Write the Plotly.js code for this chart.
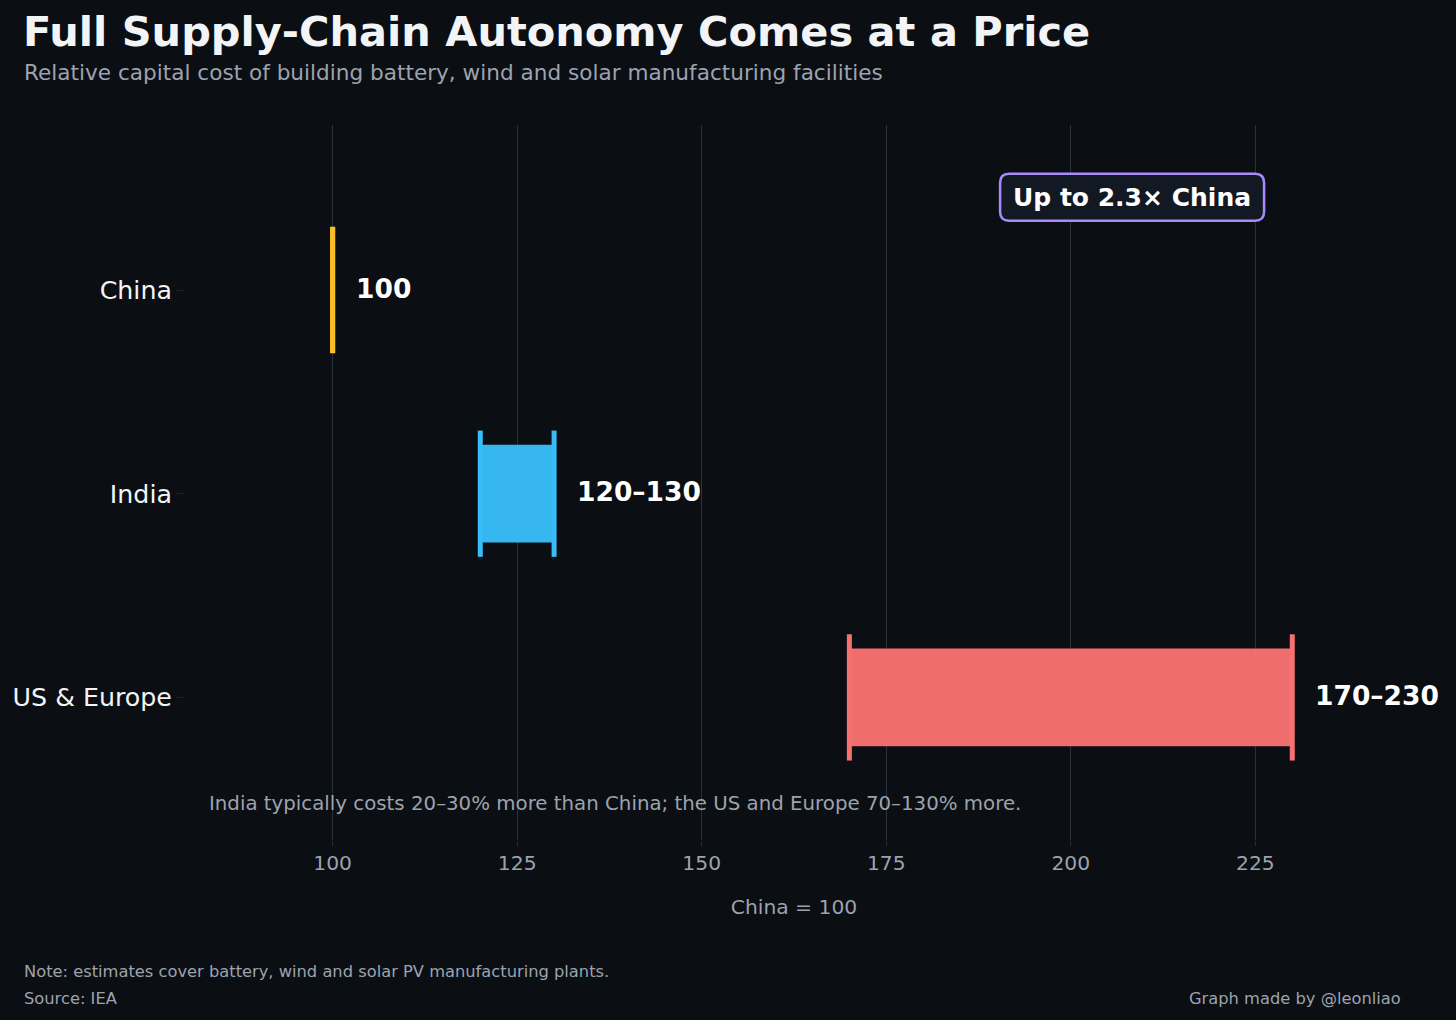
<!DOCTYPE html>
<html>
<head>
<meta charset="utf-8">
<script src="https://cdn.plot.ly/plotly-3.0.1.min.js"></script>
<style>
  html, body { margin: 0; padding: 0; background: #0b0e13; }
  #chart { width: 1456px; height: 1020px; }
</style>
</head>
<body>
<div id="chart"></div>
<script>
// ---- data ----
var regions   = ['China', 'India', 'US & Europe'];
var costLow   = [100, 120, 170];
var costHigh  = [100, 130, 230];
var rangeText = ['100', '120\u2013130', '170\u2013230'];
var colors    = ['#fbbf24', '#38bdf8', '#f87171'];
var xTicks    = [100, 125, 150, 175, 200, 225];

var FONT = '"DejaVu Sans", Verdana, sans-serif';
var BG = '#0b0e13';
var GREY = '#9ca3af';
var capHalf = 0.31;

var yIdx = regions.map(function(r, i){ return i; });

// range bars (base = low, length = high - low)
var traces = [{
	type: 'bar',
	orientation: 'h',
	y: yIdx,
	base: costLow,
	x: costHigh.map(function(h, i){ return h - costLow[i]; }),
	width: 0.48,
	marker: {color: colors, opacity: 0.97, line: {width: 0}},
	hoverinfo: 'skip',
	showlegend: false
}];

// end caps at low and high of every range
regions.forEach(function(r, i){
	traces.push({
		type: 'scatter',
		mode: 'lines',
		x: [costLow[i], costLow[i], null, costHigh[i], costHigh[i]],
		y: [i - capHalf, i + capHalf, null, i - capHalf, i + capHalf],
		line: {color: colors[i], width: 5},
		hoverinfo: 'skip',
		showlegend: false
	});
});

// plot box in pixels, used for paper-coordinate text outside the axes
var plotL = 185, plotW = 1456 - 185 - 53, plotT = 125, plotH = 1020 - 125 - 180;
function px(x){ return (x - plotL) / plotW; }
function py(y){ return (plotT + plotH - y) / plotH; }

var annotations = [];

// value labels
regions.forEach(function(r, i){
	annotations.push({
		x: costHigh[i], y: i, xref: 'x', yref: 'y',
		text: '<b>' + rangeText[i] + '</b>',
		showarrow: false, xanchor: 'left', yanchor: 'middle',
		xshift: 21, yshift: 2,
		font: {family: FONT, size: 26.5, color: '#ffffff'}
	});
});

annotations.push({
	x: 208.3, y: -0.455, xref: 'x', yref: 'y',
	text: '<b>Up to 2.3\u00d7 China</b>',
	showarrow: false,
	font: {family: FONT, size: 25, color: '#ffffff'}
});

annotations.push({
	x: px(207), y: py(803), xref: 'paper', yref: 'paper',
	text: 'India typically costs 20\u201330% more than China; the US and Europe 70\u2013130% more.',
	showarrow: false, xanchor: 'left', yanchor: 'middle',
	font: {family: FONT, size: 19.8, color: GREY}
});

annotations.push({
	x: px(22), y: py(73), xref: 'paper', yref: 'paper',
	text: 'Relative capital cost of building battery, wind and solar manufacturing facilities',
	showarrow: false, xanchor: 'left', yanchor: 'middle',
	font: {family: FONT, size: 21.6, color: GREY}
});
annotations.push({
	x: px(22), y: py(971), xref: 'paper', yref: 'paper',
	text: 'Note: estimates cover battery, wind and solar PV manufacturing plants.',
	showarrow: false, xanchor: 'left', yanchor: 'middle',
	font: {family: FONT, size: 16.3, color: GREY}
});
annotations.push({
	x: px(22), y: py(998), xref: 'paper', yref: 'paper',
	text: 'Source: IEA',
	showarrow: false, xanchor: 'left', yanchor: 'middle',
	font: {family: FONT, size: 16.3, color: GREY}
});
annotations.push({
	x: px(1403), y: py(998), xref: 'paper', yref: 'paper',
	text: 'Graph made by @leonliao',
	showarrow: false, xanchor: 'right', yanchor: 'middle',
	font: {family: FONT, size: 16.3, color: GREY}
});

// rounded callout box behind the "Up to" label
var bw = 132, bh = 23.5, rr = 9;
var boxPath = 'M ' + (-bw + rr) + ',' + (-bh) +
	' L ' + (bw - rr) + ',' + (-bh) + ' Q ' + bw + ',' + (-bh) + ' ' + bw + ',' + (-bh + rr) +
	' L ' + bw + ',' + (bh - rr) + ' Q ' + bw + ',' + bh + ' ' + (bw - rr) + ',' + bh +
	' L ' + (-bw + rr) + ',' + bh + ' Q ' + (-bw) + ',' + bh + ' ' + (-bw) + ',' + (bh - rr) +
	' L ' + (-bw) + ',' + (-bh + rr) + ' Q ' + (-bw) + ',' + (-bh) + ' ' + (-bw + rr) + ',' + (-bh) + ' Z';

var layout = {
	width: 1456, height: 1020,
	paper_bgcolor: BG, plot_bgcolor: BG,
	margin: {l: 185, r: 53, t: 125, b: 180},
	title: {
		text: '<b>Full Supply-Chain Autonomy Comes at a Price</b>',
		xref: 'container', yref: 'container',
		x: 23/1456, xanchor: 'left', y: 1 - 31/1020, yanchor: 'middle',
		font: {family: FONT, size: 41.5, color: '#f3f4f6'}
	},
	xaxis: {
		range: [80, 245],
		tickvals: xTicks,
		showgrid: true, gridcolor: '#29313c', gridwidth: 1,
		zeroline: false, showline: false,
		ticks: 'outside', ticklen: 5, tickcolor: '#262c36',
		tickfont: {family: FONT, size: 20.3, color: GREY},
		title: {text: 'China = 100', standoff: 25, font: {family: FONT, size: 20.3, color: GREY}}
	},
	yaxis: {
		range: [2.7, -0.81],
		tickvals: yIdx, ticktext: regions,
		showgrid: false, zeroline: false, showline: false,
		ticks: 'outside', ticklen: 7, tickcolor: '#1e242d',
		tickfont: {family: FONT, size: 25.3, color: '#f3f4f6'}
	},
	shapes: [{
		type: 'path', layer: 'above',
		xref: 'x', yref: 'y',
		xsizemode: 'pixel', ysizemode: 'pixel',
		xanchor: 208.3, yanchor: -0.455,
		path: boxPath,
		fillcolor: '#121923',
		line: {color: '#a78bfa', width: 2.5}
	}],
	annotations: annotations,
	showlegend: false
};

Plotly.newPlot('chart', traces, layout, {displayModeBar: false, responsive: false});
</script>
</body>
</html>
